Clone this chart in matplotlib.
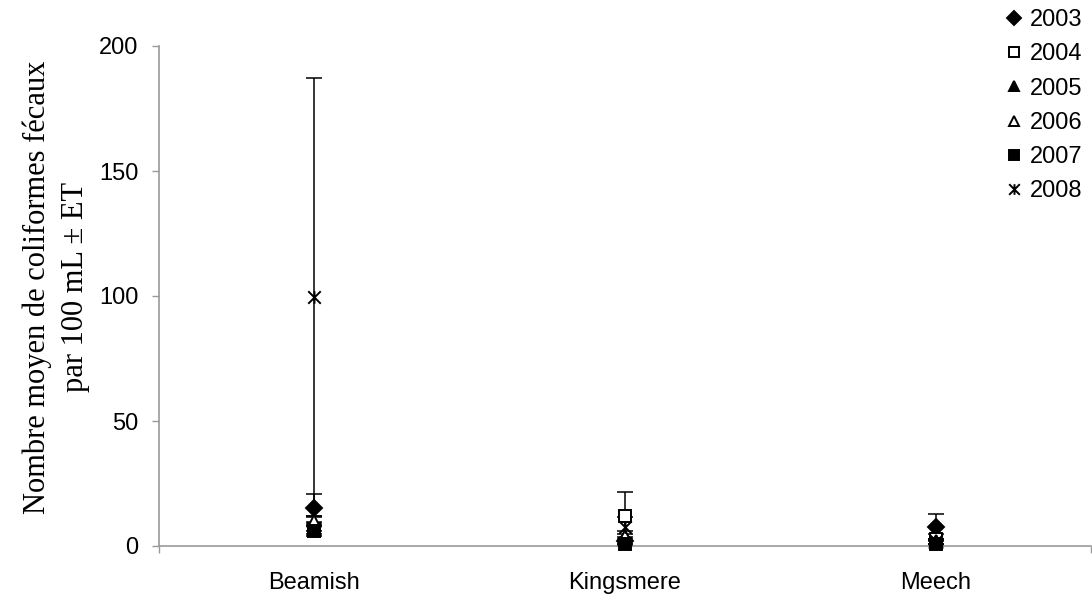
import matplotlib
matplotlib.use("Agg")
import matplotlib.pyplot as plt
from matplotlib.path import Path
import numpy as np

sites = ["Beamish", "Kingsmere", "Meech"]
years = ["2003", "2004", "2005", "2006", "2007", "2008"]
means = {
    "2003": [15.2, 2.0, 7.6],
    "2004": [7.0, 12.0, 3.0],
    "2005": [9.0, 3.0, 2.0],
    "2006": [10.0, 4.0, 1.5],
    "2007": [6.0, 1.0, 1.0],
    "2008": [99.5, 7.5, 2.0],
}
errs = {
    "2003": [5.6, 1.0, 5.2],
    "2004": [2.0, 9.6, 2.0],
    "2005": [3.0, 2.0, 1.0],
    "2006": [2.0, 2.0, 1.0],
    "2007": [2.0, 1.0, 1.0],
    "2008": [87.7, 4.0, 1.0],
}
yticks = [0, 50, 100, 150, 200]

star = Path([(-1, -1), (1, 1), (-1, 1), (1, -1), (0, -1), (0, 1)],
            [Path.MOVETO, Path.LINETO, Path.MOVETO, Path.LINETO, Path.MOVETO, Path.LINETO])
styles = {
    "2003": dict(marker="D", mfc="black", ms=8),
    "2004": dict(marker="s", mfc="white", ms=8),
    "2005": dict(marker="^", mfc="black", ms=9),
    "2006": dict(marker="^", mfc="white", ms=8),
    "2007": dict(marker="s", mfc="black", ms=8),
    "2008": dict(marker=star, mfc="none", ms=9),
}

W, H = 1092, 597
fig = plt.figure(figsize=(W / 100, H / 100), dpi=100)
ax = fig.add_axes([159 / W, 1 - 546 / H, (1091 - 159) / W, (546 - 46) / H])

FS = 17
x = np.arange(len(sites))
handles = []
for yr in years:
    m = np.array(means[yr])
    e = np.array(errs[yr])
    lo = np.minimum(e, m)
    st = styles[yr]
    ax.errorbar(x, m, yerr=[lo, e], fmt="none", ecolor="black",
                elinewidth=1.1, capsize=5.5, capthick=1.1, clip_on=False, zorder=2)
    ln, = ax.plot(x, m, linestyle="none", marker=st["marker"], markersize=st["ms"],
                  markerfacecolor=st["mfc"], markeredgecolor="black",
                  markeredgewidth=1.4, clip_on=False, zorder=3, label=yr)
    handles.append(ln)

ax.set_xlim(-0.5, 2.5)
ax.set_ylim(0, 200)
ax.set_yticks(yticks)
ax.set_xticks(x)
ax.set_xticklabels(sites, fontsize=FS, family="Liberation Sans")
for lab in ax.get_yticklabels():
    lab.set_fontfamily("Liberation Sans")
    lab.set_fontsize(FS)
ax.set_xticks([-0.5, 2.5], minor=True)
ax.tick_params(axis="y", length=5, width=1, color="#999999", pad=10)
ax.tick_params(axis="x", which="major", length=0, pad=19)
ax.tick_params(axis="x", which="minor", length=5, width=1, color="#999999")
for s in ["top", "right"]:
    ax.spines[s].set_visible(False)
for s in ["left", "bottom"]:
    ax.spines[s].set_color("#999999")
    ax.spines[s].set_linewidth(1.2)

fig.text(56 / W, 1 - 287 / H, "Nombre moyen de coliformes fécaux\npar 100 mL ± ET",
         rotation=90, ha="center", va="center", fontsize=22,
         family="Liberation Serif", linespacing=1.4, multialignment="center")

fig.legend(handles=handles, labels=years, loc="upper left",
           bbox_to_anchor=(1005 / W, 1 - 9 / H), frameon=False,
           prop=dict(family="Liberation Sans", size=FS), markerscale=0.85,
           handlelength=0.8, handletextpad=0.25, labelspacing=0.52,
           borderpad=0, borderaxespad=0)

fig.savefig("out.png", dpi=100)
